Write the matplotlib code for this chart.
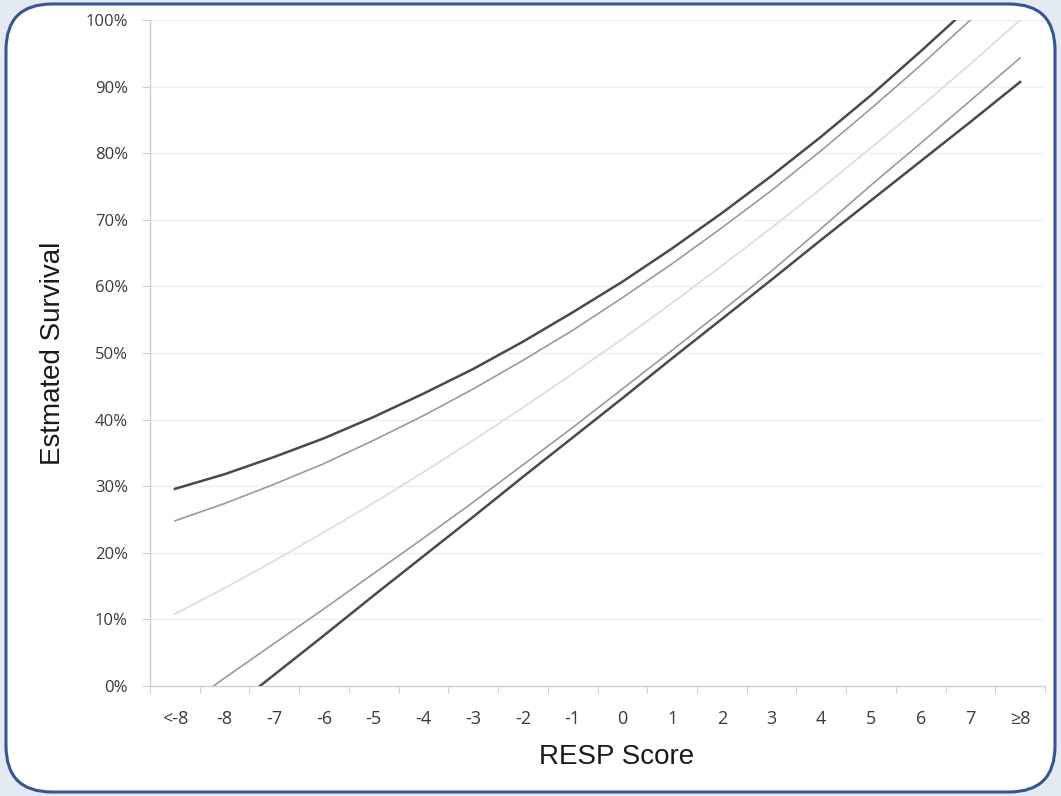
import matplotlib
matplotlib.use("Agg")
import matplotlib.pyplot as plt
from matplotlib.patches import FancyBboxPatch

# RESP score categories
categories = ["<-8", "-8", "-7", "-6", "-5", "-4", "-3", "-2", "-1",
              "0", "1", "2", "3", "4", "5", "6", "7", "\u22658"]

# Estimated survival (%) and interval bounds per category
survival = [10.8, 14.7, 18.8, 23.1, 27.5, 32.1, 36.9, 41.8, 46.9,
            52.1, 57.5, 63.1, 68.8, 74.7, 80.8, 87.0, 93.4, 100.0]
inner_upper = [24.8, 27.4, 30.3, 33.4, 36.9, 40.6, 44.6, 48.9, 53.4,
               58.3, 63.4, 68.8, 74.4, 80.4, 86.7, 93.2, 100.0, 107.1]
inner_lower = [-4.2, 1.2, 6.4, 11.6, 16.9, 22.2, 27.6, 33.2, 38.8,
               44.6, 50.4, 56.3, 62.3, 68.7, 75.2, 81.5, 87.9, 94.3]
outer_upper = [29.6, 31.8, 34.4, 37.2, 40.4, 43.9, 47.6, 51.7, 56.1,
               60.7, 65.7, 71.0, 76.6, 82.5, 88.7, 95.3, 102.1, 109.2]
outer_lower = [-10.1, -4.2, 1.7, 7.6, 13.6, 19.5, 25.4, 31.4, 37.3,
               43.2, 49.2, 55.1, 61.0, 67.0, 72.9, 78.8, 84.7, 90.7]

y_ticks = list(range(0, 101, 10))
y_tick_labels = [f"{v}%" for v in y_ticks]

W, H = 1061, 796
fig = plt.figure(figsize=(W / 100, H / 100), dpi=100, facecolor="#e3eaf2")

# background axes holding the rounded panel with a blue border
bg = fig.add_axes([0, 0, 1, 1], zorder=0)
bg.set_xlim(0, W)
bg.set_ylim(0, H)
bg.axis("off")
bg.add_patch(FancyBboxPatch((6, 4), W - 12, H - 8,
                            boxstyle="round,pad=0,rounding_size=46",
                            facecolor="white", edgecolor="#34559a",
                            linewidth=2.2))

ax = fig.add_axes([150 / W, (H - 686) / H, 895 / W, 666 / H], zorder=1)
ax.set_facecolor("none")

x = list(range(len(categories)))
ax.plot(x, survival, color="#dedede", lw=1.3, zorder=3)
ax.plot(x, inner_upper, color="#9a9a9a", lw=1.2, zorder=3)
ax.plot(x, inner_lower, color="#9a9a9a", lw=1.2, zorder=3)
ax.plot(x, outer_upper, color="#4a4a4a", lw=1.8, zorder=4)
ax.plot(x, outer_lower, color="#4a4a4a", lw=1.8, zorder=4)

ax.set_xlim(-0.5, len(categories) - 0.5)
ax.set_ylim(0, 100)

tick_font = ["Open Sans", "DejaVu Sans"]

# category labels sit between boundary tick marks
ax.set_xticks([i - 0.5 for i in range(len(categories) + 1)])
ax.set_xticklabels([])
ax.set_xticks(x, minor=True)
ax.set_xticklabels(categories, minor=True, fontsize=13, color="#3a3a3a",
                   family=tick_font)
ax.tick_params(axis="x", which="major", length=5, color="#cfcfcf", direction="out")
ax.tick_params(axis="x", which="minor", length=0, pad=17)

ax.set_yticks(y_ticks)
ax.set_yticklabels(y_tick_labels, fontsize=12, color="#3a3a3a",
                   family=tick_font)
ax.tick_params(axis="y", length=6, color="#cfcfcf", direction="out", pad=10)

ax.grid(axis="y", color="#efefef", lw=1.0, zorder=0)
ax.set_axisbelow(True)

for side in ("top", "right"):
    ax.spines[side].set_visible(False)
for side in ("left", "bottom"):
    ax.spines[side].set_color("#d0d0d0")
    ax.spines[side].set_linewidth(1.0)

ax.set_xlabel("RESP Score", fontsize=20, color="#1a1a1a",
              family="Liberation Sans")
ax.xaxis.set_label_coords((617 - 150) / 895, -(757 - 686) / 666)
ax.xaxis.label.set_va("center")
ax.set_ylabel("Estmated Survival", fontsize=20, color="#1a1a1a",
              family="Liberation Sans")
ax.yaxis.set_label_coords(-(150 - 53) / 895, 0.5)
ax.yaxis.label.set_va("center")

fig.savefig("out.png", dpi=100, facecolor=fig.get_facecolor())
